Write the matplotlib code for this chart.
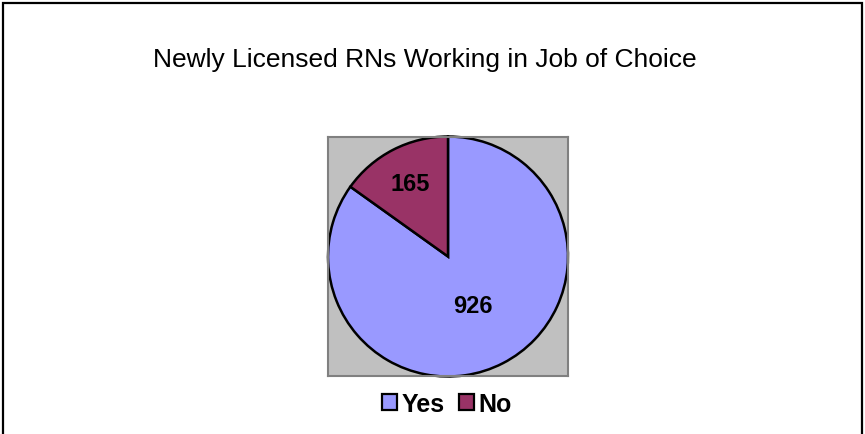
import numpy as np
import matplotlib
matplotlib.use("Agg")
import matplotlib.pyplot as plt
from matplotlib.patches import Rectangle, Patch

labels = ["Yes", "No"]
counts = [926, 165]
colors = ["#9999FF", "#993366"]
title = "Newly Licensed RNs Working in Job of Choice"

plt.rcParams['font.family'] = ['Liberation Sans', 'DejaVu Sans']

fig = plt.figure(figsize=(8.65, 4.35), dpi=100)

# outer chart border (bottom edge falls outside the image)
fig.patches.append(Rectangle((2.5/865, -0.05), 859/865, 1 - 3.5/435 + 0.05,
                             transform=fig.transFigure, fill=False,
                             edgecolor='black', linewidth=1.6, clip_on=False))

fig.text(424.7/865, 1 - 60/435, title, ha='center', va='center', fontsize=19)

ax = fig.add_axes([328/865, 1 - 378/435, 240/865, 241/435])

wedges, _ = ax.pie(counts, colors=colors, startangle=90, counterclock=False,
                   wedgeprops=dict(edgecolor='black', linewidth=1.8))
ax.set_frame_on(True)
ax.set_facecolor('#C0C0C0')
for s in ax.spines.values():
    s.set_visible(True)
    s.set_edgecolor('#808080')
    s.set_linewidth(1.5)
ax.set_xlim(-1.0, 1.0)
ax.set_ylim(-1.0, 1.0)
ax.set_aspect('equal')
ax.set_xticks([])
ax.set_yticks([])

label_r = [0.46, 0.68]
for w, v, r in zip(wedges, counts, label_r):
    mid = np.deg2rad((w.theta1 + w.theta2) / 2)
    ax.text(r * np.cos(mid), r * np.sin(mid), str(v), ha='center', va='center',
            fontsize=17, fontweight='bold')

handles = [Patch(facecolor=c, edgecolor='black', linewidth=1.6) for c in colors]
fig.legend(handles, labels, loc='center', bbox_to_anchor=(447/865, 1 - 405/435),
           ncol=2, frameon=False, prop=dict(weight='bold', size=18),
           handlelength=0.6, handleheight=0.6, handletextpad=0.2,
           columnspacing=0.55, borderpad=0)

fig.savefig("out.png", dpi=100)
